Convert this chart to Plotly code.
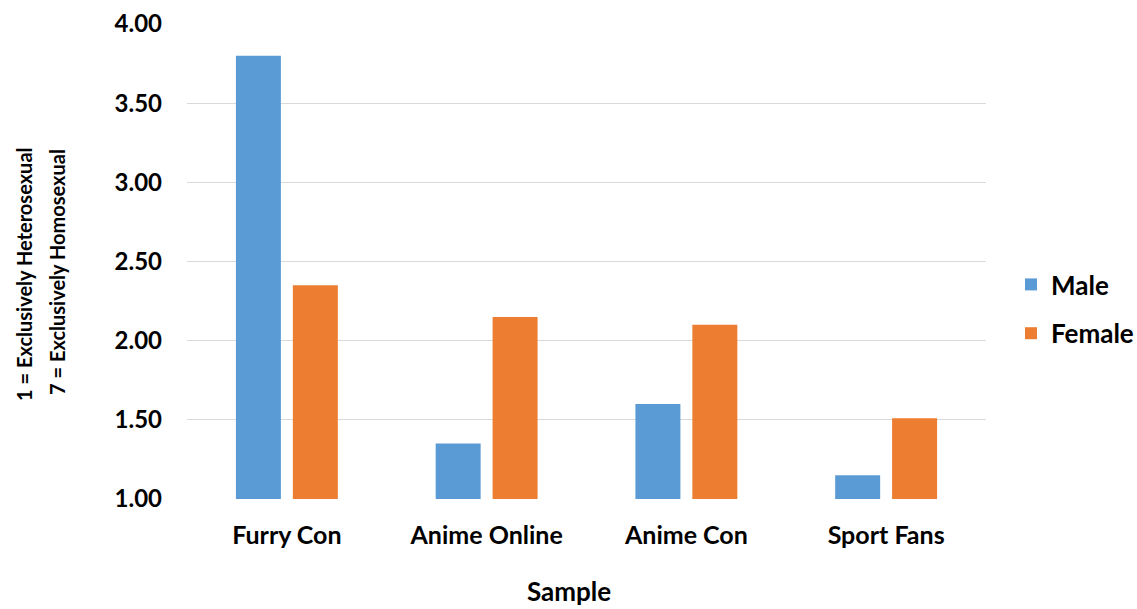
import plotly.graph_objects as go

categories = ["Furry Con", "Anime Online", "Anime Con", "Sport Fans"]
male = [3.80, 1.35, 1.60, 1.15]
female = [2.35, 2.15, 2.10, 1.51]
series_names = ["Male", "Female"]
colors = ["#5B9BD5", "#ED7D31"]
tick_vals = [1.0, 1.5, 2.0, 2.5, 3.0, 3.5, 4.0]
tick_text = ["1.00", "1.50", "2.00", "2.50", "3.00", "3.50", "4.00"]
y_title_lines = ["1 = Exclusively Heterosexual", "7 = Exclusively Homosexual"]
x_title = "Sample"

FONT = "Lato, 'Open Sans', sans-serif"

fig = go.Figure()
for name, vals, col in zip(series_names, [male, female], colors):
    fig.add_trace(go.Bar(
        x=categories, y=[v - 1 for v in vals], base=1, name=name,
        marker=dict(color=col, line=dict(width=0)),
        legendgroup=name,
    ))

W, H = 1137, 609
ml, mr, mt, mb = 187, W - 986, 24, H - 499
pw, ph = W - ml - mr, H - mt - mb

fig.update_layout(
    width=W, height=H,
    margin=dict(l=ml, r=mr, t=mt, b=mb, autoexpand=False),
    paper_bgcolor="white", plot_bgcolor="white",
    barmode="group", bargap=0.43, bargroupgap=0.21,
    font=dict(family=FONT, size=24, color="#000000"),
    showlegend=True,
    legend=dict(
        x=(1011 - ml) / pw, y=(499 - 309) / ph, xanchor="left", yanchor="middle",
        font=dict(family=FONT, size=26, color="#000000", weight="bold"),
        traceorder="grouped", tracegroupgap=12,
        itemwidth=30,
    ),
    xaxis=dict(
        showgrid=False, showline=False, ticks="",
        tickfont=dict(family=FONT, size=25, color="#000000", weight="bold"),
        ticklabelstandoff=19,
    ),
    yaxis=dict(
        range=[1.0, 4.0], tickvals=tick_vals, ticktext=tick_text,
        showgrid=True, gridcolor="#D9D9D9", gridwidth=1.3,
        zeroline=False, showline=False, ticks="",
        tickfont=dict(family=FONT, size=24, color="#000000", weight="bold"),
        ticklabelstandoff=24,
    ),
)

for line, xc, yc in zip(y_title_lines, [24, 57], [274, 272]):
    fig.add_annotation(
        text=line,
        xref="paper", yref="paper", x=(xc - ml) / pw, y=(499 - yc) / ph,
        xanchor="center", yanchor="middle", textangle=-90, showarrow=False,
        font=dict(family=FONT, size=20, color="#000000", weight="bold"),
    )
fig.add_annotation(
    text=x_title,
    xref="paper", yref="paper", x=(569 - ml) / pw, y=-(591 - 499) / ph,
    xanchor="center", yanchor="middle", showarrow=False, borderpad=0,
    font=dict(family=FONT, size=26, color="#000000", weight="bold"),
)

fig.write_html(
    "out.html",
    config={"displayModeBar": False},
    post_script="document.body.style.margin='0';document.body.style.overflow='hidden';",
)
